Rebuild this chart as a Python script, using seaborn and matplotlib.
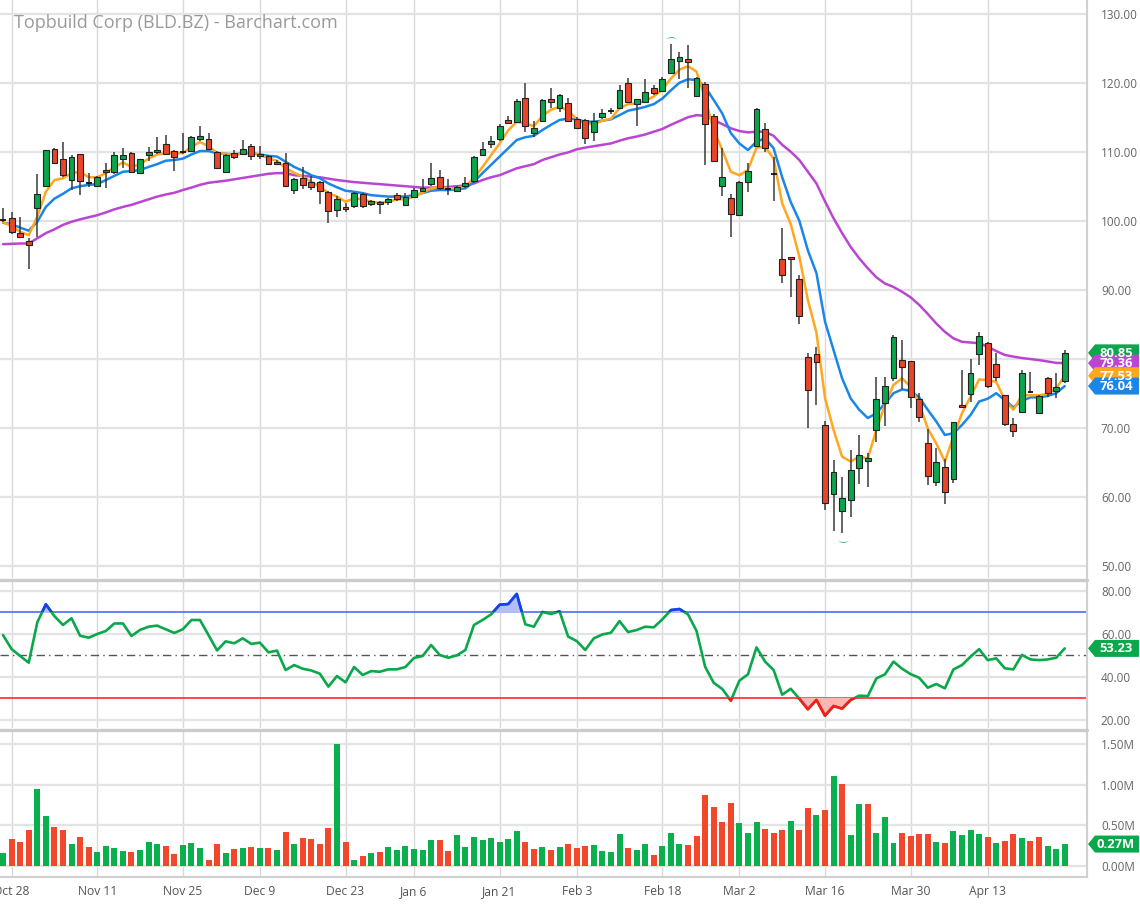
import numpy as np
import pandas as pd
import seaborn as sns
import matplotlib.pyplot as plt
import matplotlib.transforms as mtransforms
from matplotlib.patches import Polygon, Rectangle
from matplotlib.lines import Line2D

holidays = ["2019-11-28", "2019-12-25", "2020-01-01", "2020-01-20", "2020-02-17", "2020-04-10"]
dates = pd.bdate_range("2019-10-25", "2020-04-24", freq="C", holidays=holidays)

opens = [100.1, 100.35, 98.25, 97.1, 101.9, 105.1, 110.4, 109.0, 105.9, 109.6,
         105.5, 105.0, 107.0, 107.0, 108.9, 109.8, 106.9, 109.5, 109.9, 111.1,
         110.15, 109.9, 110.1, 111.8, 111.9, 110.0, 107.0, 109.8, 109.6, 110.8,
         109.4, 109.4, 108.25, 108.3, 104.45, 106.15, 105.65, 105.65, 104.2, 101.55,
         101.95, 102.15, 103.9, 102.4, 102.4, 102.65, 103.8, 102.3, 103.4, 104.35,
         105.3, 106.4, 104.55, 104.35, 105.0, 105.75, 109.5, 111.05, 111.8, 114.6,
         114.3, 117.8, 112.7, 114.5, 117.6, 116.4, 117.0, 114.7, 114.55, 112.9,
         115.1, 115.9, 116.4, 119.9, 116.9, 117.2, 119.3, 118.8, 121.35, 123.1,
         123.4, 118.1, 119.8, 115.2, 105.0, 103.3, 100.9, 105.6, 110.9, 113.3,
         106.8, 94.4, 94.7, 91.55, 80.3, 80.7, 70.4, 60.4, 57.9, 59.5,
         64.1, 65.2, 69.7, 73.55, 77.2, 79.8, 79.6, 74.1, 67.75, 62.2,
         64.35, 62.5, 73.3, 74.9, 80.7, 82.3, 79.3, 74.7, 70.6, 72.25,
         75.2, 72.1, 77.2, 75.35, 76.7]
highs = [101.8, 101.2, 100.5, 97.5, 106.7, 110.3, 110.6, 111.4, 109.5, 109.7,
         106.9, 106.5, 108.3, 110.0, 110.6, 109.9, 109.0, 110.7, 112.1, 112.4,
         110.2, 112.7, 112.3, 113.7, 112.7, 110.1, 109.6, 110.2, 111.7, 111.1,
         110.8, 109.5, 108.8, 109.8, 106.2, 107.8, 106.5, 105.8, 104.3, 103.6,
         102.6, 104.1, 104.0, 103.0, 102.9, 103.3, 104.0, 104.0, 104.8, 106.1,
         108.4, 107.35, 106.0, 105.0, 106.4, 109.4, 111.45, 112.3, 114.0, 115.2,
         117.6, 119.9, 114.4, 117.7, 119.3, 118.3, 117.8, 115.1, 114.8, 115.6,
         116.2, 116.3, 119.6, 120.7, 117.7, 120.6, 119.6, 120.9, 125.6, 124.4,
         125.4, 120.9, 120.1, 115.5, 110.5, 103.9, 105.8, 108.4, 116.3, 114.2,
         109.3, 98.9, 94.8, 92.1, 80.8, 81.7, 71.0, 65.3, 62.9, 66.8,
         68.9, 66.4, 77.3, 77.3, 83.5, 82.7, 79.7, 75.0, 69.8, 67.0,
         65.5, 70.9, 78.4, 79.9, 83.9, 82.4, 80.8, 74.8, 71.4, 78.3,
         78.1, 74.8, 77.3, 77.9, 81.2]
lows = [99.8, 98.1, 97.5, 93.0, 97.6, 104.9, 108.2, 106.4, 104.5, 103.8,
        104.9, 104.9, 104.8, 106.8, 107.6, 106.9, 106.7, 108.6, 109.7, 109.5,
        107.2, 109.7, 110.0, 111.6, 110.2, 107.5, 106.9, 108.9, 109.5, 108.8,
        108.9, 108.1, 108.1, 105.0, 103.9, 104.6, 104.5, 102.4, 99.7, 100.6,
        101.2, 101.9, 101.9, 102.2, 101.0, 102.3, 102.9, 102.2, 103.3, 104.2,
        105.1, 104.5, 103.8, 104.1, 104.8, 105.5, 109.4, 110.6, 111.6, 114.0,
        114.1, 112.9, 112.1, 114.3, 116.3, 115.7, 114.3, 113.3, 111.1, 111.6,
        114.8, 115.4, 116.2, 117.0, 113.7, 117.0, 118.2, 118.6, 121.2, 120.6,
        119.2, 117.9, 108.1, 108.5, 103.6, 97.7, 100.7, 104.1, 110.7, 110.0,
        102.9, 91.0, 89.0, 85.0, 69.9, 73.3, 58.1, 55.0, 54.7, 57.0,
        61.9, 61.4, 68.0, 70.2, 76.8, 75.6, 72.8, 70.9, 61.7, 61.5,
        59.0, 62.0, 72.9, 73.8, 79.1, 75.7, 76.8, 70.2, 68.6, 72.1,
        75.0, 72.0, 74.5, 74.25, 76.5]
closes = [100.1, 98.3, 97.6, 96.5, 103.9, 110.25, 108.3, 106.6, 109.2, 105.7,
          105.5, 106.3, 107.35, 109.5, 109.5, 107.1, 108.9, 110.0, 110.25, 109.7,
          109.2, 109.9, 112.2, 112.3, 110.35, 107.7, 109.5, 109.3, 110.35, 109.4,
          109.7, 108.2, 108.55, 105.0, 106.0, 105.2, 104.85, 104.3, 101.45, 103.1,
          101.65, 104.0, 102.2, 102.8, 102.7, 103.1, 103.1, 103.4, 104.45, 104.75,
          106.2, 104.8, 104.55, 104.85, 105.4, 109.3, 110.35, 111.6, 113.8, 114.1,
          117.4, 113.7, 113.4, 117.5, 117.2, 118.2, 114.5, 113.5, 111.95, 114.45,
          115.55, 115.9, 119.0, 117.2, 117.6, 118.7, 118.55, 120.6, 123.4, 123.8,
          122.95, 120.7, 114.0, 108.7, 106.3, 101.0, 105.65, 107.25, 116.2, 110.6,
          106.8, 92.2, 94.4, 86.2, 75.5, 79.5, 59.05, 63.6, 59.85, 63.9,
          66.1, 65.6, 74.1, 76.05, 83.2, 78.85, 74.5, 71.6, 63.0, 65.1,
          60.7, 70.8, 73.0, 78.0, 83.3, 76.1, 77.4, 70.5, 69.5, 78.0,
          75.2, 74.6, 75.0, 75.95, 80.85]

# volume in millions of shares
volume = [0.156, 0.328, 0.291, 0.443, 0.951, 0.615, 0.475, 0.443, 0.275, 0.361,
          0.238, 0.172, 0.242, 0.221, 0.184, 0.168, 0.197, 0.291, 0.270, 0.242,
          0.148, 0.258, 0.287, 0.217, 0.074, 0.266, 0.156, 0.209, 0.217, 0.238,
          0.221, 0.221, 0.201, 0.418, 0.266, 0.344, 0.328, 0.266, 0.471, 1.50,
          0.299, 0.074, 0.123, 0.164, 0.176, 0.230, 0.197, 0.242, 0.205, 0.197,
          0.316, 0.320, 0.189, 0.377, 0.234, 0.352, 0.320, 0.344, 0.291, 0.336,
          0.426, 0.299, 0.209, 0.230, 0.193, 0.230, 0.270, 0.225, 0.246, 0.258,
          0.184, 0.176, 0.393, 0.217, 0.197, 0.270, 0.131, 0.246, 0.402, 0.270,
          0.258, 0.369, 0.869, 0.725, 0.537, 0.775, 0.525, 0.410, 0.541, 0.455,
          0.402, 0.447, 0.553, 0.443, 0.713, 0.627, 0.684, 1.111, 1.008, 0.385,
          0.762, 0.758, 0.406, 0.607, 0.287, 0.406, 0.369, 0.389, 0.398, 0.295,
          0.279, 0.426, 0.385, 0.439, 0.393, 0.352, 0.283, 0.307, 0.389, 0.344,
          0.307, 0.352, 0.242, 0.205, 0.270]

ma_fast = [99.8, 99.2, 98.4, 97.9, 100.6, 104.2, 105.9, 106.15, 106.9, 107.1,
           106.3, 106.3, 106.9, 107.75, 108.45, 107.8, 108.2, 109.0, 109.6, 109.8,
           109.8, 109.8, 110.7, 111.4, 110.8, 109.8, 109.7, 109.5, 109.8, 109.85,
           109.6, 109.0, 108.7, 107.6, 106.95, 106.4, 105.65, 104.9, 104.0, 103.5,
           102.75, 103.25, 103.1, 102.75, 102.6, 102.75, 103.1, 103.1, 103.5, 104.05,
           104.7, 104.9, 104.7, 104.7, 105.0, 106.15, 107.8, 109.5, 111.2, 113.1,
           114.35, 114.1, 113.7, 115.2, 116.1, 116.5, 116.0, 114.7, 114.1, 114.0,
           114.5, 114.8, 116.3, 116.9, 117.0, 117.35, 118.0, 119.0, 120.6, 121.9,
           122.4, 121.6, 117.7, 113.15, 110.25, 107.1, 106.6, 107.35, 110.6, 110.7,
           109.0, 102.5, 99.5, 94.8, 88.5, 83.8, 74.3, 69.7, 65.8, 65.1,
           65.8, 65.55, 69.7, 73.3, 76.2, 77.15, 75.95, 73.5, 69.9, 67.7,
           65.1, 68.7, 72.1, 74.5, 77.0, 76.9, 76.65, 74.0, 72.6, 74.7,
           74.7, 74.7, 74.9, 75.7, 77.53]
ma_mid = [99.7, 99.5, 99.0, 98.55, 99.85, 102.0, 103.2, 103.9, 104.7, 105.0,
          105.2, 105.3, 105.9, 106.5, 107.1, 107.2, 107.35, 107.8, 108.2, 108.7,
          108.8, 109.0, 109.6, 110.1, 110.1, 109.8, 109.7, 109.6, 109.8, 109.8,
          109.6, 109.4, 109.3, 108.55, 107.8, 107.25, 106.6, 106.15, 105.4, 104.85,
          104.35, 104.2, 104.0, 103.7, 103.6, 103.5, 103.5, 103.5, 103.7, 104.0,
          104.35, 104.45, 104.45, 104.55, 104.7, 105.65, 106.9, 108.1, 109.3, 110.5,
          111.7, 112.1, 112.3, 113.15, 113.9, 114.6, 114.8, 114.7, 114.35, 114.35,
          114.5, 114.7, 115.3, 115.95, 116.2, 116.5, 116.9, 117.7, 118.9, 120.0,
          120.5, 120.4, 119.4, 117.5, 115.55, 112.7, 111.2, 110.25, 111.45, 111.95,
          110.5, 106.3, 102.7, 100.0, 95.7, 92.4, 85.4, 81.25, 77.15, 74.25,
          72.6, 71.4, 72.1, 73.5, 75.0, 75.55, 75.35, 74.4, 72.6, 70.9,
          68.95, 69.2, 70.4, 71.85, 73.8, 74.2, 75.0, 74.0, 72.95, 73.9,
          74.4, 74.4, 74.6, 75.0, 76.04]
ma_slow = [96.6, 96.65, 96.7, 96.7, 97.45, 98.2, 98.75, 99.4, 99.85, 100.2,
           100.5, 100.8, 101.2, 101.65, 102.0, 102.3, 102.7, 103.1, 103.5, 103.8,
           104.05, 104.45, 104.8, 105.2, 105.5, 105.65, 105.8, 106.0, 106.2, 106.4,
           106.6, 106.8, 106.9, 106.9, 106.6, 106.5, 106.4, 106.3, 106.1, 105.9,
           105.75, 105.6, 105.5, 105.4, 105.3, 105.2, 105.1, 105.0, 104.9, 104.8,
           104.8, 104.8, 104.9, 105.0, 105.1, 105.4, 105.9, 106.3, 106.6, 107.1,
           107.6, 107.9, 108.2, 108.8, 109.2, 109.6, 109.9, 110.35, 110.6, 110.8,
           111.0, 111.2, 111.6, 111.95, 112.2, 112.5, 112.9, 113.3, 113.9, 114.45,
           115.0, 115.3, 115.2, 114.6, 114.0, 113.4, 113.0, 112.8, 112.9, 112.9,
           112.3, 111.0, 110.0, 108.8, 107.1, 105.4, 102.8, 100.35, 98.2, 96.2,
           94.55, 93.1, 91.8, 90.9, 90.4, 89.7, 88.9, 87.8, 86.5, 85.1,
           83.9, 82.95, 82.45, 82.35, 82.25, 81.75, 81.1, 80.55, 80.3, 80.1,
           79.95, 79.8, 79.6, 79.4, 79.36]

rsi = [59.4, 52.9, 49.7, 46.6, 65.3, 73.7, 68.2, 64.1, 67.2, 59.1,
       58.2, 59.9, 61.3, 64.8, 64.8, 59.0, 61.8, 63.3, 63.8, 62.1,
       60.4, 62.1, 66.4, 66.4, 59.4, 52.3, 56.5, 55.6, 57.9, 55.3,
       55.9, 51.4, 52.2, 43.2, 45.5, 43.8, 43.0, 41.5, 35.5, 40.4,
       37.5, 44.6, 40.9, 42.7, 42.4, 43.5, 43.5, 44.6, 48.8, 49.7,
       54.8, 50.2, 48.9, 50.0, 52.5, 64.1, 66.4, 69.0, 73.5, 73.8,
       78.5, 64.4, 63.3, 70.1, 69.2, 70.4, 58.7, 56.65, 52.5, 57.9,
       59.7, 60.5, 65.9, 60.8, 61.75, 63.3, 63.0, 66.7, 71.0, 71.5,
       69.0, 61.3, 44.7, 37.3, 34.4, 29.0, 38.25, 41.2, 53.7, 47.1,
       43.2, 31.75, 34.5, 29.9, 25.0, 29.3, 22.0, 26.5, 25.3, 29.3,
       31.3, 31.1, 39.3, 41.2, 47.1, 43.8, 41.3, 39.6, 35.0, 36.7,
       34.7, 43.5, 45.5, 49.4, 52.9, 47.8, 48.6, 44.0, 43.5, 50.2,
       48.1, 47.8, 48.1, 48.9, 53.23]

tick_dates = ["2019-10-28", "2019-11-11", "2019-11-25", "2019-12-09", "2019-12-23",
              "2020-01-06", "2020-01-21", "2020-02-03", "2020-02-18", "2020-03-02",
              "2020-03-16", "2020-03-30", "2020-04-13"]
tick_labels = ["Oct 28", "Nov 11", "Nov 25", "Dec 9", "Dec 23", "Jan 6", "Jan 21",
               "Feb 3", "Feb 18", "Mar 2", "Mar 16", "Mar 30", "Apr 13"]

title = "Topbuild Corp (BLD.BZ) - Barchart.com"

GREEN = "#0aa54c"
RED = "#ea4528"
VGREEN = "#0bb04e"
VRED = "#f2472b"
C_FAST = "#ffa81f"
C_MID = "#1b85e8"
C_SLOW = "#bb45d3"
GRID_H = "#e3e3e3"
GRID_V = "#d9d9d9"
TXT = "#666666"

sns.set_theme(style="white")
plt.rcParams["font.family"] = ["Open Sans", "DejaVu Sans"]

n = len(closes)
idx = np.arange(n)
o = np.array(opens); h = np.array(highs); l = np.array(lows); c = np.array(closes)
vol = np.array(volume)
rsi = np.array(rsi)
tick_pos = [dates.get_loc(pd.Timestamp(d)) for d in tick_dates]

W, H = 1140, 905
fig = plt.figure(figsize=(W / 100, H / 100), dpi=100)
fig.patch.set_facecolor("white")
right = 1087 / W
ax1 = fig.add_axes([0, (H - 578) / H, right, 578 / H])
ax2 = fig.add_axes([0, (H - 728) / H, right, 147 / H])
ax3 = fig.add_axes([0, (H - 877) / H, right, 146 / H])

xlim = (-0.355, 126.6)
for ax in (ax1, ax2, ax3):
    ax.set_xlim(*xlim)
    ax.set_facecolor("white")
    ax.set_xticks(tick_pos)
    ax.grid(axis="x", color=GRID_V, lw=1.0)
    ax.grid(axis="y", color=GRID_H, lw=1.6)
    ax.set_axisbelow(True)
    ax.yaxis.tick_right()
    ax.tick_params(axis="y", length=0, pad=10, labelsize=8.5, labelcolor=TXT)
    ax.tick_params(axis="x", length=0)
    for s in ("top", "left", "bottom"):
        ax.spines[s].set_visible(False)
    ax.spines["right"].set_color("#d0d0d0")
    ax.spines["right"].set_linewidth(1.5)

# ---- price panel
ax1.set_ylim(48.22, 131.99)
ax1.set_yticks(np.arange(50, 131, 10))
ax1.set_yticklabels([f"{v:.2f}" for v in np.arange(50, 131, 10)])
ax1.tick_params(axis="x", labelbottom=False)

sns.lineplot(x=idx, y=ma_slow, ax=ax1, color=C_SLOW, linewidth=1.8, estimator=None, zorder=2)
sns.lineplot(x=idx, y=ma_mid, ax=ax1, color=C_MID, linewidth=1.8, estimator=None, zorder=2)
sns.lineplot(x=idx, y=ma_fast, ax=ax1, color=C_FAST, linewidth=1.8, estimator=None, zorder=2)

ax1.vlines(idx, l, h, color="#3a3a3a", lw=1.1, zorder=3)
doji = o == c
up = c > o
body_col = np.where(up, GREEN, RED)
ax1.bar(idx[~doji], np.abs(c - o)[~doji], bottom=np.minimum(o, c)[~doji], width=0.68,
        color=body_col[~doji], edgecolor="#222222", linewidth=0.8, zorder=4)
ax1.hlines(c[doji], idx[doji] - 0.34, idx[doji] + 0.34, color="#111111", lw=1.3, zorder=4)

imax = int(np.argmax(h)); imin = int(np.argmin(l))
ax1.annotate(r"$\frown$", xy=(imax, h[imax]), xytext=(0, 1), textcoords="offset points",
             ha="center", va="bottom", color="#2ebd6b", fontsize=8)
ax1.annotate(r"$\smile$", xy=(imin, l[imin]), xytext=(0, -1), textcoords="offset points",
             ha="center", va="top", color="#2ebd6b", fontsize=8)

ax1.text(14 / 1087, 1 - 23 / 578, title, transform=ax1.transAxes, ha="left", va="center",
         fontsize=13, color="#9a9a9a")

# ---- RSI panel
ax2.set_ylim(16.3, 84.5)
ax2.set_yticks([20, 40, 60, 80])
ax2.set_yticklabels(["20.00", "40.00", "60.00", "80.00"])
ax2.tick_params(axis="x", labelbottom=False)
ax2.axhline(70, color="#4a6cf5", lw=1.2, zorder=2)
ax2.axhline(30, color="#ff2a2a", lw=1.2, zorder=2)
ax2.axhline(50, color="#555555", lw=1.0, ls=(0, (6, 3, 1, 3)), zorder=2)
ax2.fill_between(idx, rsi, 70, where=rsi >= 70, interpolate=True, color="#b3beff", zorder=2)
ax2.fill_between(idx, rsi, 30, where=rsi <= 30, interpolate=True, color="#ffb5b5", zorder=2)
sns.lineplot(x=idx, y=rsi, ax=ax2, color="#0aa84a", linewidth=1.9, estimator=None, zorder=3)
hi_line, = ax2.plot(idx, rsi, color="#1a3cff", lw=1.9, zorder=4)
hi_line.set_clip_path(Rectangle((-5, 70), 140, 40, transform=ax2.transData))
lo_line, = ax2.plot(idx, rsi, color="#ff1a1a", lw=1.9, zorder=4)
lo_line.set_clip_path(Rectangle((-5, 0), 140, 30, transform=ax2.transData))

# ---- volume panel
ax3.set_ylim(-0.135, 1.66)
ax3.set_yticks([0, 0.5, 1.0, 1.5])
ax3.set_yticklabels(["0.00M", "0.50M", "1.00M", "1.50M"])
prev = np.concatenate([[c[0]], c[:-1]])
vcol = np.where(c >= prev, VGREEN, VRED)
ax3.bar(idx, vol, width=0.7, color=vcol, linewidth=0, zorder=3)
ax3.set_xticklabels(tick_labels)
ax3.tick_params(axis="x", labelbottom=True, labelsize=8.7, labelcolor="#555555", pad=6)
ax3.spines["bottom"].set_visible(True)
ax3.spines["bottom"].set_color("#d0d0d0")
ax3.spines["bottom"].set_linewidth(1.5)

# panel separators
for ypx in (579.5, 729.5):
    fig.add_artist(Line2D([0, right], [(H - ypx) / H] * 2, transform=fig.transFigure,
                          color="#cbcbcb", lw=2.4))

# ---- value tags on the right axis
ident = mtransforms.IdentityTransform()


def tag(ax, value, text, color):
    y = ax.transData.transform((0, value))[1]
    x0 = 1088
    pts = [(x0, y), (x0 + 7, y + 8.5), (1139, y + 8.5), (1139, y - 8.5), (x0 + 7, y - 8.5)]
    fig.add_artist(Polygon(pts, closed=True, transform=ident, facecolor=color,
                           edgecolor="none", zorder=10))
    fig.add_artist(plt.Text(1116, y - 0.5, text, transform=ident, ha="center", va="center",
                            color="white", fontsize=9.4, fontweight="bold", zorder=11))


tag(ax1, closes[-1], f"{closes[-1]:.2f}", "#0aa84a")
tag(ax1, ma_slow[-1], f"{ma_slow[-1]:.2f}", C_SLOW)
tag(ax1, ma_fast[-1], f"{ma_fast[-1]:.2f}", C_FAST)
tag(ax1, ma_mid[-1], f"{ma_mid[-1]:.2f}", C_MID)
tag(ax2, rsi[-1], f"{rsi[-1]:.2f}", "#0aa84a")
tag(ax3, volume[-1], f"{volume[-1]:.2f}M", "#0aa84a")

fig.savefig("out.png", dpi=100, facecolor="white")
